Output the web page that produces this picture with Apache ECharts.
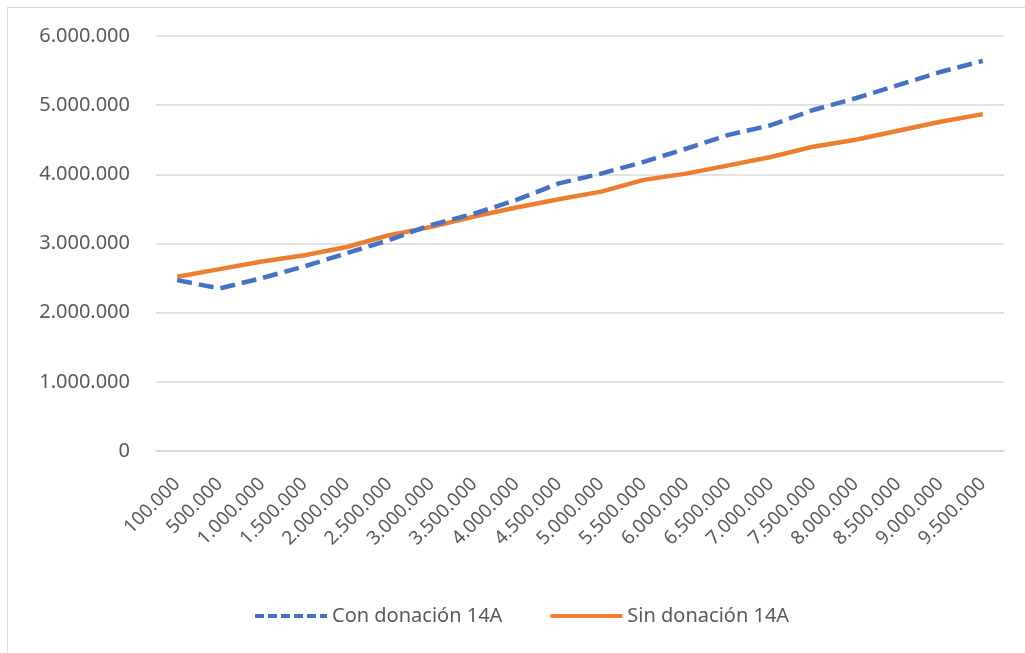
<!DOCTYPE html>
<html>
<head>
<meta charset="utf-8">
<script src="https://cdn.jsdelivr.net/npm/echarts@6/dist/echarts.min.js"></script>
<style>
html,body{margin:0;padding:0;background:#fff;}
#frame{position:absolute;left:7px;top:7px;width:1030px;height:660px;border-left:1px solid #d9d9d9;border-top:1px solid #d9d9d9;}
#chart{position:absolute;left:0;top:0;width:1025px;height:653px;}
</style>
</head>
<body>
<div id="frame"></div>
<div id="chart"></div>
<script>
const categories = ['100.000','500.000','1.000.000','1.500.000','2.000.000','2.500.000','3.000.000','3.500.000','4.000.000','4.500.000','5.000.000','5.500.000','6.000.000','6.500.000','7.000.000','7.500.000','8.000.000','8.500.000','9.000.000','9.500.000'];
const conDonacion = [2470000,2350000,2500000,2670000,2860000,3050000,3270000,3430000,3630000,3870000,4010000,4180000,4370000,4570000,4710000,4930000,5100000,5290000,5480000,5640000];
const sinDonacion = [2520000,2630000,2740000,2830000,2950000,3120000,3240000,3390000,3520000,3640000,3750000,3920000,4010000,4130000,4250000,4400000,4500000,4630000,4760000,4870000];
const seriesNames = ['Con donación 14A','Sin donación 14A'];

function fmt(v){
  return String(v).replace(/\B(?=(\d{3})+(?!\d))/g,'.');
}

const chart = echarts.init(document.getElementById('chart'), null, {renderer:'canvas'});
const txt = '#595959';
const fontFamily = '"Noto Sans", sans-serif';
const blue = '#4472C4', orange = '#ED7D31';
chart.setOption({
  animation:false,
  backgroundColor:'transparent',
  textStyle:{fontFamily:fontFamily},
  grid:{left:156,right:21,top:36,bottom:202,containLabel:false},
  legend:{
    data:[
      {name:seriesNames[0],itemStyle:{opacity:0},lineStyle:{color:blue,width:4,type:[9,4]}},
      {name:seriesNames[1],itemStyle:{opacity:0},lineStyle:{color:orange,width:4,type:'solid'}}
    ],
    bottom:22,
    left:248,
    itemWidth:72,
    itemHeight:14,
    itemGap:46,
    textStyle:{color:txt,fontSize:20,fontFamily:fontFamily}
  },
  xAxis:{
    type:'category',
    data:categories,
    boundaryGap:true,
    axisLine:{show:true,lineStyle:{color:'#d9d9d9',width:1.5}},
    axisTick:{show:false},
    axisLabel:{rotate:45,interval:0,margin:30,color:txt,fontSize:19,fontFamily:fontFamily}
  },
  yAxis:{
    type:'value',
    min:0,max:6000000,interval:1000000,
    axisLine:{show:false},
    axisTick:{show:false},
    splitLine:{lineStyle:{color:'#d9d9d9',width:1.5}},
    axisLabel:{color:txt,fontSize:20,margin:26,fontFamily:fontFamily,formatter:fmt}
  },
  series:[
    {name:seriesNames[0],type:'line',data:conDonacion,symbol:'none',
     lineStyle:{color:blue,width:4.5,type:[15,7],cap:'butt'},itemStyle:{color:blue},z:3},
    {name:seriesNames[1],type:'line',data:sinDonacion,symbol:'none',
     lineStyle:{color:orange,width:4.5,type:'solid'},itemStyle:{color:orange},z:2}
  ]
});
</script>
</body>
</html>
